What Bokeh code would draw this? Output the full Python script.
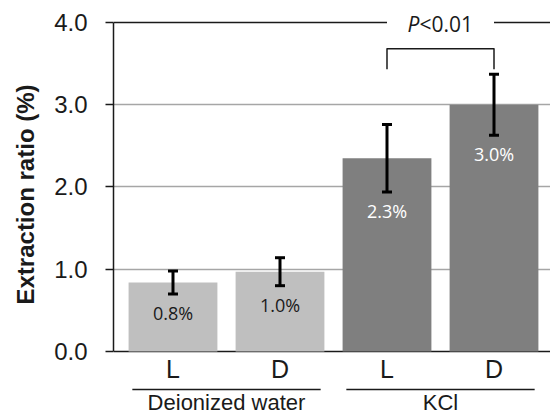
import numpy as np
from bokeh.plotting import figure
from bokeh.models import Range1d, FixedTicker, Title, ColumnDataSource, PrintfTickFormatter
from bokeh.core.properties import value
from bokeh.embed import file_html
from bokeh.resources import INLINE

# ---- data ----
groups = ["Deionized water", "Deionized water", "KCl", "KCl"]
conditions = ["L", "D", "L", "D"]
means = [0.84, 0.97, 2.35, 3.00]
errors = [0.14, 0.17, 0.41, 0.37]
value_labels = ["0.8%", "1.0%", "2.3%", "3.0%"]
y_ticks = [0, 1, 2, 3, 4]
y_label = "Extraction ratio (%)"
sig_p = "P"
sig_rest = "<0.01"
group_colors = {"Deionized water": "#bfbfbf", "KCl": "#7f7f7f"}
label_colors = {"Deionized water": "#1a1a1a", "KCl": "#ffffff"}

x = np.arange(1, len(means) + 1, dtype=float)
m = np.array(means)
e = np.array(errors)

src = ColumnDataSource(dict(
    x=x, top=m, hi=m + e, lo=m - e,
    color=[group_colors[g] for g in groups],
    tcolor=[label_colors[g] for g in groups],
    vlab=value_labels, cond=conditions,
))

xr = Range1d(0.444, 4.528)
yr = Range1d(-0.766, 4.267)
p = figure(width=550, height=414, x_range=xr, y_range=yr,
           output_backend="svg", toolbar_location=None,
           x_axis_location=None,
           min_border_left=113, min_border_right=0,
           min_border_top=0, min_border_bottom=0)
p.outline_line_color = None
p.xgrid.visible = False
p.background_fill_color = "white"

ya = p.yaxis[0]
ya.ticker = FixedTicker(ticks=y_ticks)
ya.bounds = (y_ticks[0], y_ticks[-1])
ya.formatter = PrintfTickFormatter(format="%.1f")
ya.major_tick_out = 8
ya.major_tick_in = 0
ya.minor_tick_line_color = None
ya.axis_line_width = 1.5
ya.major_tick_line_width = 1.5
ya.axis_line_color = "#1a1a1a"
ya.major_tick_line_color = "#1a1a1a"
ya.major_label_standoff = 18
ya.major_label_text_font = "Liberation Sans"
ya.major_label_text_font_size = "24px"
ya.major_label_text_color = "#1a1a1a"

p.ygrid.ticker = FixedTicker(ticks=y_ticks[1:-1])
p.ygrid.grid_line_color = "#a6a6a6"
p.ygrid.grid_line_width = 1.5

# top line at 4.0 broken by the significance label
p.segment(x0=[xr.start, x[3]], x1=[x[2], xr.end], y0=[y_ticks[-1]] * 2, y1=[y_ticks[-1]] * 2,
          line_color="#1a1a1a", line_width=1.5)
# baseline
p.segment(x0=[xr.start], x1=[xr.end], y0=[0], y1=[0], line_color="#1a1a1a", line_width=1.5)

# bars
p.vbar(x="x", top="top", bottom=0, width=0.83, source=src,
       fill_color="color", line_color=None)

# error bars
p.segment(x0="x", x1="x", y0="lo", y1="hi", source=src, line_color="black", line_width=3)
p.scatter(x="x", y="hi", marker="dash", size=10, line_width=3, line_color="black", source=src)
p.scatter(x="x", y="lo", marker="dash", size=10, line_width=3, line_color="black", source=src)

# value labels in bars
p.text(x="x", y="lo", text="vlab", source=src, y_offset=19,
       text_align="center", text_baseline="middle",
       text_font=value("Open Sans"), text_font_size="18px", text_color="tcolor")

# condition labels under axis
p.text(x="x", y=-0.213, text="cond", source=src,
       text_align="center", text_baseline="middle",
       text_font=value("Liberation Sans"), text_font_size="25px", text_color="#1a1a1a")

# group labels and lines
ug = list(dict.fromkeys(groups))
gcent = [float(np.mean(x[[i for i, g in enumerate(groups) if g == u]])) for u in ug]
p.segment(x0=[c - 0.88 for c in gcent], x1=[c + 0.88 for c in gcent],
          y0=[-0.462] * len(ug), y1=[-0.462] * len(ug), line_color="#1a1a1a", line_width=1.5)
p.text(x=gcent, y=[-0.62] * len(ug), text=ug,
       text_align="center", text_baseline="middle",
       text_font=value("Liberation Sans"), text_font_size="22px", text_color="#1a1a1a")

# significance bracket
p.line(x=[x[2], x[2], x[3], x[3]], y=[3.43, 3.68, 3.68, 3.43],
       line_color="#1a1a1a", line_width=1.5, line_join="round")
xm = (x[2] + x[3]) / 2
p.text(x=[xm], y=[y_ticks[-1]], text=[sig_p], x_offset=-21, y_offset=2,
       text_align="right", text_baseline="middle", text_font_style="italic",
       text_font=value("Open Sans"), text_font_size="21px", text_color="#1a1a1a")
p.text(x=[xm], y=[y_ticks[-1]], text=[sig_rest], x_offset=-21, y_offset=2,
       text_align="left", text_baseline="middle",
       text_font=value("Open Sans"), text_font_size="21px", text_color="#1a1a1a")

# y-axis title (left-aligned along the side so that offset applies)
p.add_layout(Title(text=y_label, align="left", vertical_align="top", offset=110, standoff=22,
                   text_font="Liberation Sans", text_font_style="bold",
                   text_font_size="24px", text_color="#1a1a1a"), "left")

open("out.html", "w").write(file_html(p, INLINE))
